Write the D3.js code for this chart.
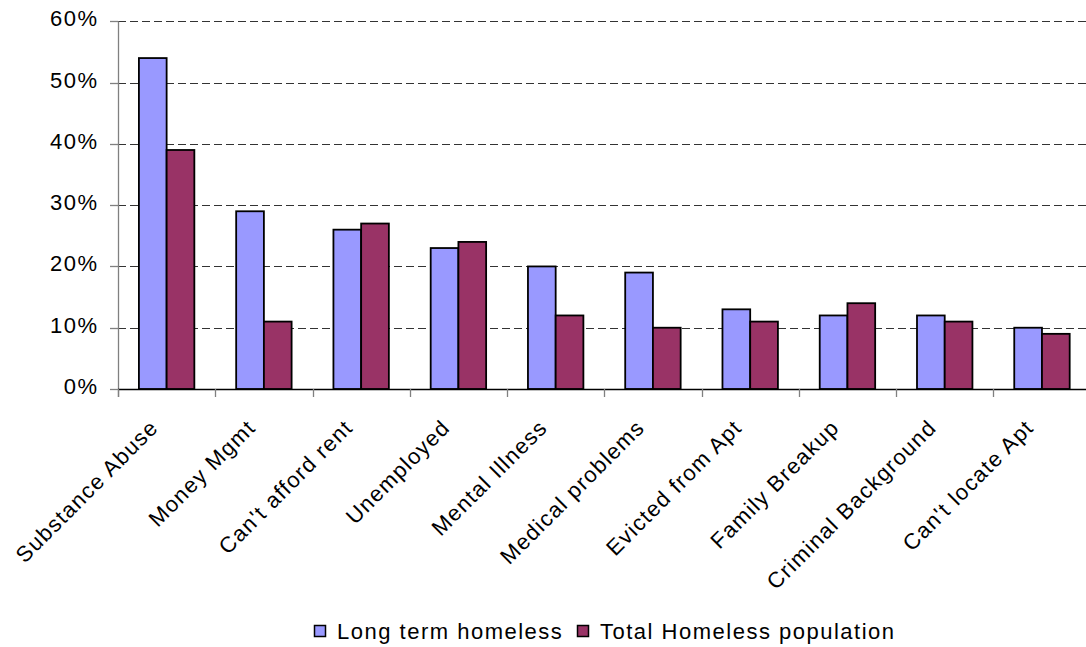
<!DOCTYPE html>
<html>
<head>
<meta charset="utf-8">
<script src="https://cdn.jsdelivr.net/npm/d3@7"></script>
<style>
  body { margin: 0; background: #fff; }
  svg text { font-family: "Liberation Sans", Arial, sans-serif; }
</style>
</head>
<body>
<svg id="chartSvg" width="1086" height="647"></svg>
<script>
var categories = ["Substance Abuse", "Money Mgmt", "Can't afford rent", "Unemployed", "Mental Illness",
  "Medical problems", "Evicted from Apt", "Family Breakup", "Criminal Background", "Can't locate Apt"];
var longTermHomeless = [54, 29, 26, 23, 20, 19, 13, 12, 12, 10];
var totalHomeless = [39, 11, 27, 24, 12, 10, 11, 14, 11, 9];
var seriesNames = ["Long term homeless", "Total Homeless population"];
var seriesColors = ["#9999FF", "#993366"];
var yTicks = [0, 10, 20, 30, 40, 50, 60];

var svg = d3.select("#chartSvg");

var margin = { top: 21.3, left: 118, bottom: 258, right: -4.6 };
var svgWidth = 1086, svgHeight = 647;
var drawWidth = svgWidth - margin.left - margin.right;
var drawHeight = svgHeight - margin.top - margin.bottom;

var x = d3.scaleBand()
  .domain(categories)
  .range([margin.left, margin.left + drawWidth])
  .paddingInner(0.43)
  .paddingOuter(0.215);

var xSub = d3.scaleBand()
  .domain(seriesNames)
  .range([0, x.bandwidth()]);

var y = d3.scaleLinear()
  .domain([0, 60])
  .range([margin.top + drawHeight, margin.top]);

var step = drawWidth / categories.length;
var axisY = y(0);

// dashed grid lines
var gridG = svg.append("g").attr("class", "grid");
gridG.selectAll("line")
  .data(yTicks.filter(function (d) { return d > 0; }))
  .enter().append("line")
  .attr("x1", margin.left)
  .attr("x2", margin.left + drawWidth)
  .attr("y1", function (d) { return Math.round(y(d)) + 0.5; })
  .attr("y2", function (d) { return Math.round(y(d)) + 0.5; })
  .style("stroke", "#333")
  .style("stroke-width", 1)
  .style("stroke-dasharray", "8,4");

// bars
var barsG = svg.append("g").attr("class", "bars");
var seriesData = [longTermHomeless, totalHomeless];
for (let s = 0; s < seriesData.length; s++) {
  barsG.selectAll(".bar" + s)
    .data(categories)
    .enter().append("rect")
    .attr("class", "bar" + s)
    .attr("x", function (d) { return x(d) + xSub(seriesNames[s]); })
    .attr("y", function (d, i) { return y(seriesData[s][i]); })
    .attr("width", xSub.bandwidth())
    .attr("height", function (d, i) { return axisY - y(seriesData[s][i]); })
    .style("fill", seriesColors[s])
    .style("stroke", "#000")
    .style("stroke-width", 1.8);
}

// y axis
var yAxisG = svg.append("g").attr("class", "yAxis");
yAxisG.append("line")
  .attr("x1", margin.left + 0.5).attr("x2", margin.left + 0.5)
  .attr("y1", margin.top).attr("y2", axisY + 8)
  .style("stroke", "#808080").style("stroke-width", 1.3);
yAxisG.selectAll(".ytick")
  .data(yTicks)
  .enter().append("line")
  .attr("class", "ytick")
  .attr("x1", margin.left - 8).attr("x2", margin.left)
  .attr("y1", function (d) { return Math.round(y(d)) + 0.5; })
  .attr("y2", function (d) { return Math.round(y(d)) + 0.5; })
  .style("stroke", "#808080").style("stroke-width", 1.3);
yAxisG.selectAll("text")
  .data(yTicks)
  .enter().append("text")
  .attr("x", 98.5)
  .attr("y", function (d) { return y(d) + 5; })
  .style("text-anchor", "end")
  .style("font-size", "22px")
  .style("letter-spacing", "1.5px")
  .style("fill", "#000")
  .text(function (d) { return d + "%"; });

// x axis
var xAxisG = svg.append("g").attr("class", "xAxis");
xAxisG.append("line")
  .attr("x1", margin.left).attr("x2", margin.left + drawWidth)
  .attr("y1", Math.round(axisY) + 0.5).attr("y2", Math.round(axisY) + 0.5)
  .style("stroke", "#000").style("stroke-width", 1.3);
xAxisG.selectAll(".xtick")
  .data(d3.range(categories.length + 1))
  .enter().append("line")
  .attr("class", "xtick")
  .attr("x1", function (d) { return Math.round(margin.left + step * d) + 0.5; })
  .attr("x2", function (d) { return Math.round(margin.left + step * d) + 0.5; })
  .attr("y1", axisY).attr("y2", axisY + 8)
  .style("stroke", "#808080").style("stroke-width", 1.3);
xAxisG.selectAll(".xlabel")
  .data(categories)
  .enter().append("text")
  .attr("class", "xlabel")
  .attr("transform", function (d) {
    var cx = x(d) + x.bandwidth() / 2 - 7;
    return "translate(" + cx + "," + (axisY + 40) + ") rotate(-45)";
  })
  .style("text-anchor", "end")
  .style("font-size", "22px")
  .style("letter-spacing", "1.3px")
  .style("fill", "#000")
  .text(function (d) { return d; });

// legend
var legendG = svg.append("g").attr("class", "legend");
var legendX = [314, 577];
for (let s = 0; s < seriesNames.length; s++) {
  legendG.append("rect")
    .attr("x", legendX[s] + 0.5)
    .attr("y", 625.5)
    .attr("width", 11)
    .attr("height", 11)
    .style("fill", seriesColors[s])
    .style("stroke", "#000")
    .style("stroke-width", 1.5);
  legendG.append("text")
    .attr("x", legendX[s] + 23)
    .attr("y", 639)
    .style("font-size", "22px")
    .style("letter-spacing", "1.5px")
    .style("fill", "#000")
    .text(seriesNames[s]);
}
</script>
</body>
</html>
